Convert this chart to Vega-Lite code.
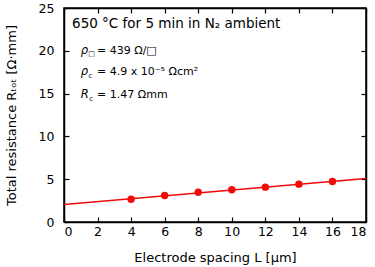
{
  "$schema": "https://vega.github.io/schema/vega-lite/v6.json",
  "width": 302,
  "height": 214,
  "autosize": {"type": "none"},
  "padding": {"left": 64, "top": 8, "right": 9, "bottom": 45},
  "background": "white",
  "config": {
    "view": {"stroke": "black", "strokeWidth": 1.5},
    "font": "DejaVu Sans",
    "axis": {
      "grid": false,
      "domainColor": "black",
      "domainWidth": 1.5,
      "tickColor": "black",
      "tickWidth": 1.2,
      "tickSize": -5,
      "labelFont": "DejaVu Sans",
      "labelFontSize": 12.5,
      "labelColor": "black",
      "titleFont": "DejaVu Sans",
      "titleFontSize": 13,
      "titleFontWeight": "normal",
      "titleColor": "black"
    }
  },
  "datasets": {
    "meas": [
      {"L": 4, "R": 2.66},
      {"L": 6, "R": 3.09},
      {"L": 8, "R": 3.48},
      {"L": 10, "R": 3.76},
      {"L": 12, "R": 4.07},
      {"L": 14, "R": 4.42},
      {"L": 16, "R": 4.73}
    ],
    "fit": [
      {"L": 0, "R": 2.04},
      {"L": 18, "R": 5.07}
    ],
    "notes": [
      {"L": 0.48, "R": 23.1, "t": "650 °C for 5 min in N₂ ambient", "k": "big"},
      {"L": 1.0, "R": 19.95, "t": "ρ", "k": "it"},
      {"L": 1.45, "R": 19.6, "t": "□", "k": "sub"},
      {"L": 1.97, "R": 19.95, "t": "= 439 Ω/□", "k": "main"},
      {"L": 1.0, "R": 17.49, "t": "ρ", "k": "it"},
      {"L": 1.45, "R": 17.1, "t": "c", "k": "sub"},
      {"L": 1.97, "R": 17.49, "t": "= 4.9 x 10⁻⁵ Ωcm²", "k": "main"},
      {"L": 1.0, "R": 14.79, "t": "R", "k": "it"},
      {"L": 1.5, "R": 14.4, "t": "c", "k": "sub"},
      {"L": 1.97, "R": 14.79, "t": "= 1.47 Ωmm", "k": "main"}
    ]
  },
  "resolve": {"axis": {"x": "independent", "y": "independent"}},
  "layer": [
    {
      "data": {"name": "fit"},
      "mark": {"type": "line", "color": "#f20a0a", "strokeWidth": 1.5},
      "encoding": {
        "x": {"field": "L", "type": "quantitative", "scale": {"domain": [0, 18], "nice": false},
              "axis": {"orient": "top", "labels": false, "title": null, "values": [0, 2, 4, 6, 8, 10, 12, 14, 16, 18]}},
        "y": {"field": "R", "type": "quantitative", "scale": {"domain": [0, 25], "nice": false},
              "axis": {"orient": "right", "labels": false, "title": null, "values": [0, 5, 10, 15, 20, 25]}}
      }
    },
    {
      "data": {"name": "meas"},
      "mark": {"type": "circle", "color": "#f20a0a", "opacity": 1, "size": 55},
      "encoding": {
        "x": {"field": "L", "type": "quantitative", "scale": {"domain": [0, 18], "nice": false},
              "axis": {"orient": "bottom", "title": "Electrode spacing L [μm]", "values": [0, 2, 4, 6, 8, 10, 12, 14, 16, 18], "labelPadding": 8, "titlePadding": 14}},
        "y": {"field": "R", "type": "quantitative", "scale": {"domain": [0, 25], "nice": false},
              "axis": {"orient": "left", "title": "Total resistance Rₜₒₜ [Ω·mm]", "values": [0, 5, 10, 15, 20, 25], "labelPadding": 15, "titlePadding": 20}}
      }
    },
    {
      "data": {"name": "notes"},
      "transform": [{"filter": "datum.k === 'big'"}],
      "mark": {"type": "text", "align": "left", "baseline": "middle", "fontSize": 13.5, "color": "black", "font": "DejaVu Sans"},
      "encoding": {
        "x": {"field": "L", "type": "quantitative", "axis": null},
        "y": {"field": "R", "type": "quantitative", "axis": null},
        "text": {"field": "t"}
      }
    },
    {
      "data": {"name": "notes"},
      "transform": [{"filter": "datum.k === 'main'"}],
      "mark": {"type": "text", "align": "left", "baseline": "middle", "fontSize": 11, "color": "black", "font": "DejaVu Sans"},
      "encoding": {
        "x": {"field": "L", "type": "quantitative", "axis": null},
        "y": {"field": "R", "type": "quantitative", "axis": null},
        "text": {"field": "t"}
      }
    },
    {
      "data": {"name": "notes"},
      "transform": [{"filter": "datum.k === 'it'"}],
      "mark": {"type": "text", "align": "left", "baseline": "middle", "fontSize": 11.5, "fontStyle": "italic", "color": "black", "font": "DejaVu Sans"},
      "encoding": {
        "x": {"field": "L", "type": "quantitative", "axis": null},
        "y": {"field": "R", "type": "quantitative", "axis": null},
        "text": {"field": "t"}
      }
    },
    {
      "data": {"name": "notes"},
      "transform": [{"filter": "datum.k === 'sub'"}],
      "mark": {"type": "text", "align": "left", "baseline": "middle", "fontSize": 7, "color": "black", "font": "DejaVu Sans"},
      "encoding": {
        "x": {"field": "L", "type": "quantitative", "axis": null},
        "y": {"field": "R", "type": "quantitative", "axis": null},
        "text": {"field": "t"}
      }
    }
  ]
}
